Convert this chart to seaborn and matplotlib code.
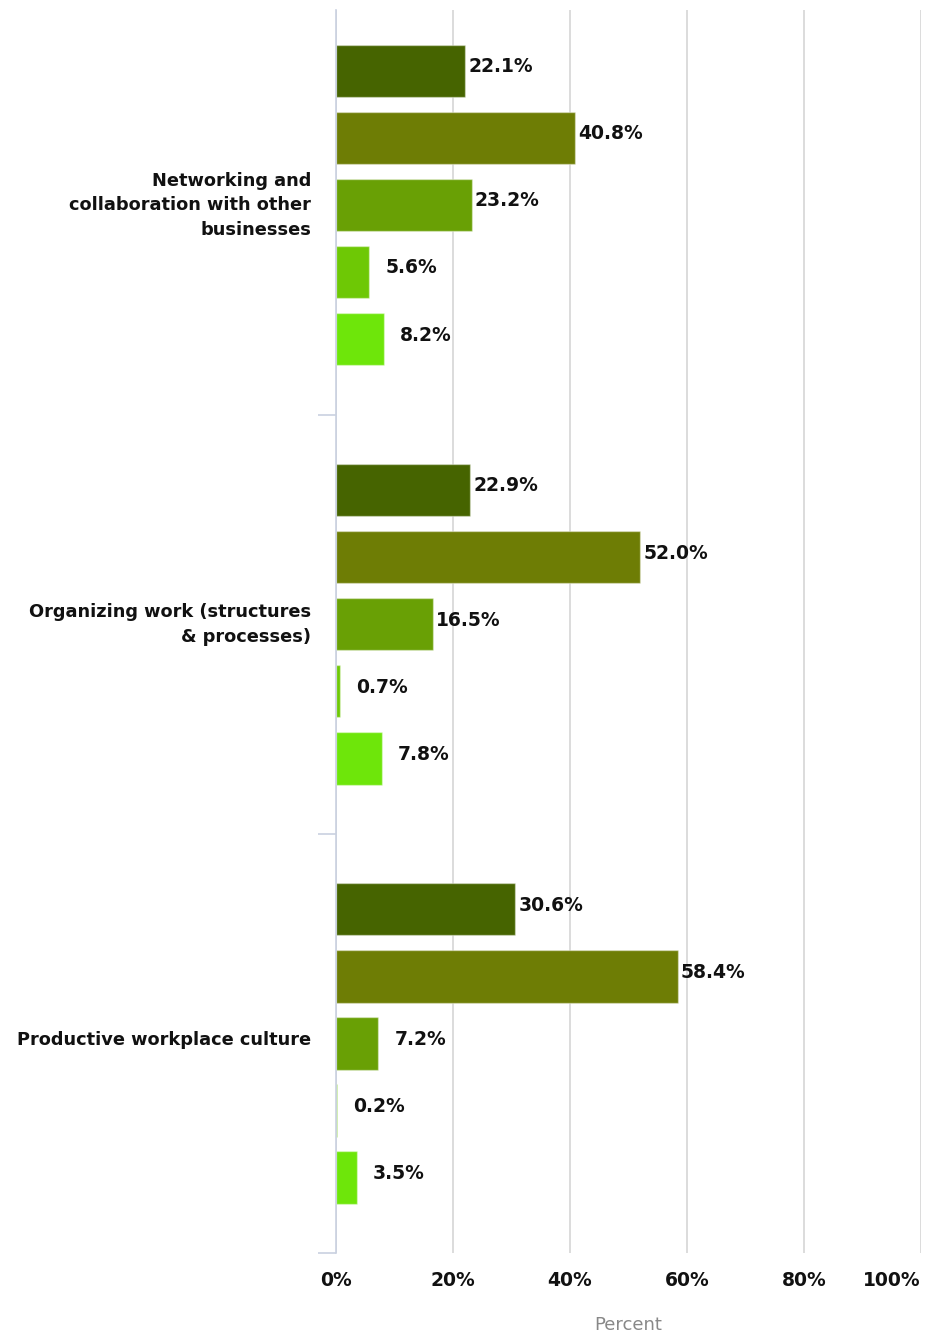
import pandas as pd
import numpy as np
import matplotlib
matplotlib.use("Agg")
import matplotlib.pyplot as plt
import matplotlib.transforms as mtransforms
import seaborn as sns

# data
categories = ["Networking and\ncollaboration with other\nbusinesses",
              "Organizing work (structures\n& processes)",
              "Productive workplace culture"]
responses = ["Very important", "Important", "Somewhat important",
             "Not important", "Don't know"]
networking = [22.1, 40.8, 23.2, 5.6, 8.2]
organizing = [22.9, 52.0, 16.5, 0.7, 7.8]
culture = [30.6, 58.4, 7.2, 0.2, 3.5]
ticks = [0, 20, 40, 60, 80, 100]
tick_labels = ["0%", "20%", "40%", "60%", "80%", "100%"]

colors = ["#466400", "#6e7d05", "#69a005", "#6ec805", "#6ee60a"]

rows = []
for cat, vals in zip(categories, [networking, organizing, culture]):
    for resp, v in zip(responses, vals):
        rows.append({"category": cat, "response": resp, "percent": v})
df = pd.DataFrame(rows)

sns.set_style("white")
plt.rcParams["font.family"] = ["DejaVu Sans"]

fig = plt.figure(figsize=(9.27, 13.35), dpi=100)
ax = fig.add_axes([0.3625, 0.0614, 0.631, 0.931])

sns.barplot(data=df, x="percent", y="category", hue="response",
            palette=colors, saturation=1, orient="h", width=0.8, gap=0.22,
            edgecolor=(1, 1, 1, 0.4), linewidth=1, legend=False, ax=ax)

for c in ax.containers:
    labels = [f"{b.get_width():.1f}%" for b in c]
    texts = ax.bar_label(c, labels=labels, padding=49, fontsize=13.5,
                         fontweight="bold", color="#111111")
    for t in texts:
        t.set_ha("right")
        t.xyann = (t.xyann[0], 3)

ax.set_xlim(0, 100)
ax.set_ylim(2.5, -0.465)
ax.set_xticks(ticks)
ax.set_xticklabels(tick_labels, fontsize=13.5, fontweight="bold", color="#111111")
ax.get_xticklabels()[-1].set_ha("right")
ax.tick_params(axis="x", length=0, pad=13)
ax.tick_params(axis="y", which="major", length=0, pad=18, labelsize=12.8)
ax.set_yticks([0.5, 1.5, 2.5], minor=True)
ax.tick_params(axis="y", which="minor", length=13, width=1.2, color="#c9d1e0", left=True)

ax.xaxis.grid(True, color="#dcdcdc", linewidth=1.4)
ax.yaxis.grid(False)
ax.set_axisbelow(True)
for s in ["top", "right", "bottom"]:
    ax.spines[s].set_visible(False)
ax.spines["left"].set_color("#c9d1e0")
ax.spines["left"].set_linewidth(1.2)

ax.set_xlabel("Percent", fontsize=13, color="#888888", labelpad=19)
ax.set_ylabel("")

# category labels: bold, right aligned, nudged up a little
shift = mtransforms.ScaledTranslation(0, 5 / 100, fig.dpi_scale_trans)
for lab in ax.get_yticklabels():
    lab.set_fontweight("bold")
    lab.set_color("#111111")
    lab.set_multialignment("right")
    lab.set_linespacing(1.45)
    lab.set_transform(lab.get_transform() + shift)

fig.savefig("out.png", dpi=100)
